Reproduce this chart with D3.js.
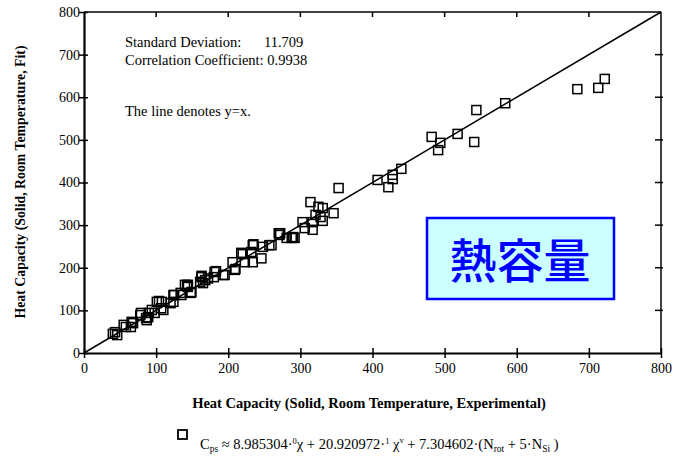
<!DOCTYPE html>
<html><head><meta charset="utf-8">
<script src="https://cdn.jsdelivr.net/npm/d3@7"></script>
<style>body{margin:0;background:#fff;} svg{display:block;font-family:"Liberation Serif","Times New Roman",serif;}</style>
</head><body>
<svg id="c" width="680" height="459"></svg>
<script>
const experimental = [40,43,46,55,58,65,66,68,78,79,86,87,89,90,94,98,101,104,107,110,108,120,124,124,125,134,135,140,144,148,149,143,144,161,163,165,168,172,163,180,183,181,193,195,206,209,210,218,220,223,232,234,234,235,246,248,257,260,270,271,272,281,288,292,290,303,306,314,317,317,321,325,328,331,331,346,353,407,422,428,428,440,482,491,494,518,541,544,584,684,713,722];
const fit =          [45,49,42,66,61,61,73,70,89,94,82,77,84,94,101,94,120,122,105,101,120,117,120,136,136,141,136,160,155,141,143,157,160,167,178,164,171,175,181,178,192,190,183,183,213,195,197,235,232,213,237,213,253,255,222,249,253,253,281,277,281,270,270,270,272,307,293,354,289,307,324,343,319,340,310,328,387,406,389,418,408,432,507,476,493,514,495,570,586,619,622,643];
const xTicks = [0,100,200,300,400,500,600,700,800];
const yTicks = [0,100,200,300,400,500,600,700,800];
const stats = ["Standard Deviation:", "11.709", "Correlation Coefficient: 0.9938", "The line denotes y=x."];
const xTitle = "Heat Capacity (Solid, Room Temperature, Experimental)";
const yTitle = "Heat Capacity (Solid, Room Temperature, Fit)";
const boxLabel = "熱容量";

const svg = d3.select("#c");
const L=84, R=661, T=12, B=353;
const x = d3.scaleLinear().domain([0,800]).range([L,R]);
const y = d3.scaleLinear().domain([0,800]).range([B,T]);

// frame
svg.append("line").attr("x1",L).attr("x2",R).attr("y1",T).attr("y2",T).attr("stroke","#000").attr("stroke-width",1.5);
svg.append("line").attr("x1",R).attr("x2",R).attr("y1",T).attr("y2",B).attr("stroke","#000").attr("stroke-width",1.5);

// bottom axis
const gx = svg.append("g").attr("transform",`translate(0,${B})`)
  .call(d3.axisBottom(x).tickValues(xTicks).tickSize(0).tickPadding(0).tickFormat(d3.format("d")));
gx.select(".domain").attr("stroke-width",2.2);
gx.selectAll(".tick line").remove();
gx.selectAll(".tick").append("line").attr("y1",-5).attr("y2",5).attr("stroke","#000").attr("stroke-width",1.5);
gx.selectAll(".tick text").attr("y",10).attr("dy","0.71em").attr("font-size",14).attr("font-family","Liberation Serif");

// left axis
const gy = svg.append("g").attr("transform",`translate(${L},0)`)
  .call(d3.axisLeft(y).tickValues(yTicks).tickSize(0).tickPadding(0).tickFormat(d3.format("d")));
gy.select(".domain").attr("stroke-width",2.2);
gy.selectAll(".tick line").remove();
gy.selectAll(".tick").append("line").attr("x1",-5).attr("x2",4).attr("stroke","#000").attr("stroke-width",1.5);
gy.selectAll(".tick text").attr("x",-4).attr("font-size",14).attr("font-family","Liberation Serif");

// top ticks
svg.append("g").selectAll("line").data(xTicks.slice(1,-1)).join("line")
  .attr("x1",d=>x(d)).attr("x2",d=>x(d)).attr("y1",T).attr("y2",T+5).attr("stroke","#000").attr("stroke-width",1.5);
// right ticks
svg.append("g").selectAll("line").data(yTicks.slice(1,-1)).join("line")
  .attr("x1",R-6).attr("x2",R+2).attr("y1",d=>y(d)).attr("y2",d=>y(d)).attr("stroke","#000").attr("stroke-width",1.5);

// y=x line
svg.append("line").attr("x1",x(0)).attr("y1",y(0)).attr("x2",x(800)).attr("y2",y(800)).attr("stroke","#000").attr("stroke-width",1.5);

// points
const s=9;
svg.append("g").selectAll("rect").data(experimental.map((d,i)=>[d,fit[i]])).join("rect")
  .attr("x",d=>x(d[0])-s/2).attr("y",d=>y(d[1])-s/2).attr("width",s).attr("height",s)
  .attr("fill","none").attr("stroke","#000").attr("stroke-width",1.5);

// annotations
const ann = svg.append("g").attr("font-size",14.5).attr("fill","#000");
ann.append("text").attr("x",125).attr("y",47).text(stats[0]);
ann.append("text").attr("x",264).attr("y",47).text(stats[1]);
ann.append("text").attr("x",125).attr("y",65).text(stats[2]);
ann.append("text").attr("x",125).attr("y",116).text(stats[3]);

// titles
svg.append("text").attr("x",369).attr("y",408).attr("text-anchor","middle").attr("font-weight","bold").attr("font-size",14.5).text(xTitle);
svg.append("text").attr("transform","translate(25,182) rotate(-90)").attr("text-anchor","middle").attr("font-weight","bold").attr("font-size",13.8).text(yTitle);

// box
svg.append("rect").attr("x",427).attr("y",218).attr("width",187).attr("height",81).attr("fill","#ccffff").attr("stroke","#0000ff").attr("stroke-width",2.5);
svg.append("text").attr("x",520).attr("y",278).attr("text-anchor","middle").attr("font-size",47).attr("font-weight",500).attr("fill","#0000ff")
  .attr("font-family","Noto Sans CJK JP").text(boxLabel);

// legend
svg.append("rect").attr("x",178).attr("y",430).attr("width",9).attr("height",9).attr("fill","none").attr("stroke","#000").attr("stroke-width",1.8);
const f = svg.append("text").attr("x",200).attr("y",449).attr("font-size",14.5);
f.append("tspan").text("C");
f.append("tspan").attr("font-size",9.5).attr("dy",3).text("ps");
f.append("tspan").attr("dy",-3).text("  \u2248 8.985304\u00B7");
f.append("tspan").attr("font-size",8.5).attr("dy",-5).text("0");
f.append("tspan").attr("dy",5).text("\u03C7 + 20.920972\u00B7");
f.append("tspan").attr("font-size",8.5).attr("dy",-5).text("1");
f.append("tspan").attr("dy",5).text(" \u03C7");
f.append("tspan").attr("font-size",8.5).attr("dy",-6).text("v");
f.append("tspan").attr("dy",6).text("  + 7.304602\u00B7(N");
f.append("tspan").attr("font-size",9.5).attr("dy",3).text("rot");
f.append("tspan").attr("dy",-3).text("   + 5\u00B7N");
f.append("tspan").attr("font-size",9.5).attr("dy",3).text("Si");
f.append("tspan").attr("dy",-3).text(" )");
</script>
</body></html>
